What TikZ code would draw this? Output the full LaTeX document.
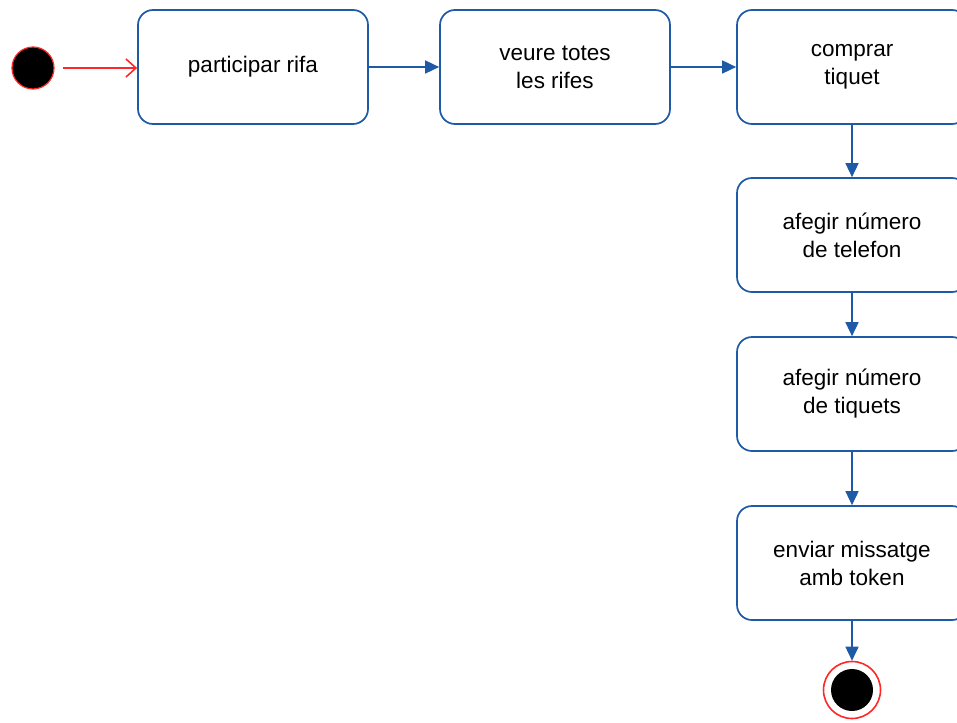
\documentclass[tikz,border=0pt]{standalone}
\usepackage{fontspec}
\setmainfont{Liberation Sans}
\usetikzlibrary{arrows.meta}
\definecolor{flowblue}{RGB}{30,90,165}
\definecolor{startred}{RGB}{255,40,40}
\tikzset{
  x=1pt, y=-1pt,
  activity/.style={draw=flowblue, line width=1.7pt, rounded corners=15pt,
    minimum width=230pt, minimum height=114pt, align=center, inner sep=0pt,
    font=\fontsize{22.5}{28}\selectfont, fill=white},
  flow/.style={draw=flowblue, line width=1.7pt, -{Triangle[length=14pt,width=13pt]}},
  startflow/.style={draw=startred, line width=1.8pt, -{Straight Barb[length=10pt,width=18pt,line width=1.6pt]}},
}
\begin{document}
\begin{tikzpicture}
  \useasboundingbox (0,0) rectangle (957,722);
  % initial and final states
  \node[circle, fill=black, draw=startred, line width=1.2pt, minimum size=42pt, inner sep=0pt] (init) at (33,68) {};
  \node[circle, draw=startred, line width=1.6pt, fill=white, minimum size=57pt, inner sep=0pt] (final) at (852,690) {};
  \fill[black] (final.center) circle (21pt);

  % activities
  \node[activity] (a1) at (253,67) {participar rifa};
  \node[activity] (a2) at (555,67) {veure totes\\les rifes};
  \node[activity] (a3) at (852,67) {comprar\\tiquet};
  \node[activity] (a4) at (852,235) {afegir número\\de telefon};
  \node[activity] (a5) at (852,394) {afegir número\\de tiquets};
  \node[activity] (a6) at (852,563) {enviar missatge\\amb token};

  % transitions
  \coordinate (initout) at ([xshift=8pt]init.east);
  \draw[startflow] (initout) -- (initout -| a1.west);
  \draw[flow] (a1) -- (a2);
  \draw[flow] (a2) -- (a3);
  \draw[flow] (a3) -- (a4);
  \draw[flow] (a4) -- (a5);
  \draw[flow] (a5) -- (a6);
  \draw[flow] (a6) -- (final);
\end{tikzpicture}
\end{document}
